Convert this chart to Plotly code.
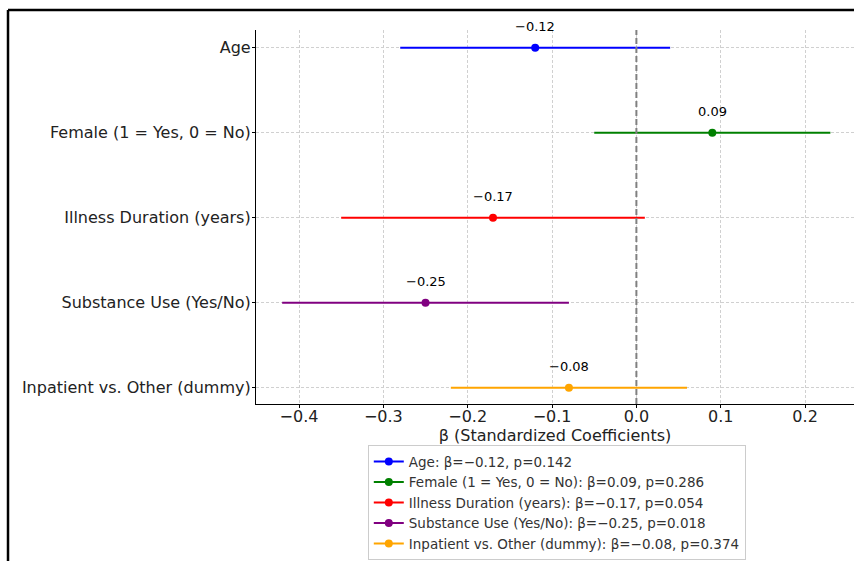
import plotly.graph_objects as go

categories = ["Age", "Female (1 = Yes, 0 = No)", "Illness Duration (years)",
              "Substance Use (Yes/No)", "Inpatient vs. Other (dummy)"]
beta = [-0.12, 0.09, -0.17, -0.25, -0.08]
ci_low = [-0.28, -0.05, -0.35, -0.42, -0.22]
ci_high = [0.04, 0.23, 0.01, -0.08, 0.06]
pvals = [0.142, 0.286, 0.054, 0.018, 0.374]
colors = ["blue", "green", "red", "purple", "orange"]
xticks = [-0.4, -0.3, -0.2, -0.1, 0.0, 0.1, 0.2]

def fmt(v, d=2):
    return f"{v:.{d}f}".replace("-", "\u2212")

fig = go.Figure()
for i, c in enumerate(categories):
    fig.add_trace(go.Scatter(
        x=[beta[i]], y=[i], mode="lines+markers",
        marker=dict(color=colors[i], size=8),
        line=dict(color=colors[i], width=2),
        error_x=dict(type="data", symmetric=False,
                     array=[ci_high[i] - beta[i]],
                     arrayminus=[beta[i] - ci_low[i]],
                     color=colors[i], thickness=2, width=0),
        name=f"{c}: \u03b2={fmt(beta[i])}, p={pvals[i]:.3f}",
    ))
    fig.add_annotation(x=beta[i], y=i, text=fmt(beta[i]), showarrow=False,
                       yanchor="bottom", yshift=12,
                       font=dict(size=13, color="black"))

fig.add_shape(type="line", xref="x", yref="paper", x0=0, x1=0, y0=0, y1=1,
              line=dict(color="gray", width=2, dash="6px,3px"))

# outer frame (cropped figure border)
fig.add_shape(type="line", xref="paper", yref="paper", x0=-0.4147, x1=1.2,
              y0=1.0535, y1=1.0535, line=dict(color="black", width=2.5))
fig.add_shape(type="line", xref="paper", yref="paper", x0=-0.4147, x1=-0.4147,
              y0=1.0535, y1=-0.5, line=dict(color="black", width=2.5))

fig.update_layout(
    width=854, height=561,
    margin=dict(l=256, r=0, t=30, b=157, autoexpand=False),
    paper_bgcolor="white", plot_bgcolor="white",
    font=dict(family="DejaVu Sans", size=16, color="#222"),
    showlegend=True,
    legend=dict(x=0.503, y=-0.11, xanchor="center", yanchor="top",
                bordercolor="#cccccc", borderwidth=1,
                font=dict(size=13.5, color="#333"), tracegroupgap=0,
                itemwidth=30),
)
fig.update_xaxes(range=[-0.451, 0.258], tickvals=xticks,
                 ticktext=[fmt(t, 1) for t in xticks],
                 showgrid=True, gridcolor="#d0d0d0", griddash="3px,2px", gridwidth=1,
                 zeroline=False, showline=True, linecolor="black", linewidth=1.2,
                 ticks="outside", ticklen=3, tickcolor="black",
                 ticklabelstandoff=-5, automargin=False,
                 title=dict(text="\u03b2 (Standardized Coefficients)", standoff=2,
                            font=dict(size=16)))
fig.update_yaxes(range=[4.19, -0.21], tickvals=list(range(len(categories))),
                 ticktext=categories,
                 showgrid=True, gridcolor="#d0d0d0", griddash="3px,2px", gridwidth=1,
                 zeroline=False, showline=True, linecolor="black", linewidth=1.2,
                 ticks="outside", ticklen=3, tickcolor="black",
                 ticklabelstandoff=-2, automargin=False)

fig.write_html("out.html", config={"displayModeBar": False},
               post_script="document.body.style.margin='0';document.body.style.overflow='hidden';")
